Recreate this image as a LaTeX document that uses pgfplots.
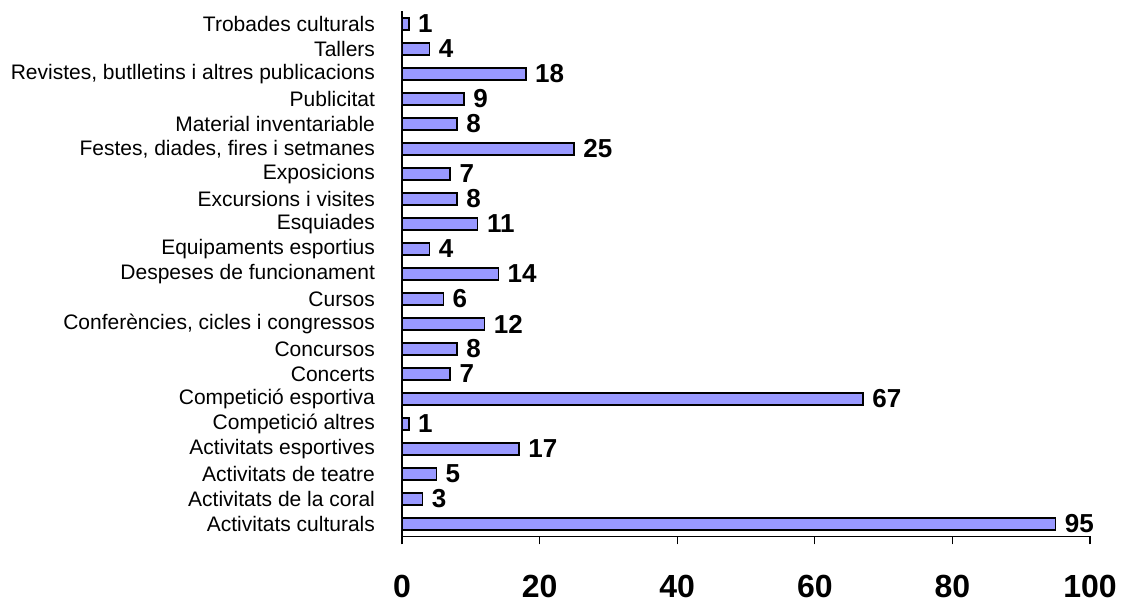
\documentclass[border=0pt]{standalone}
\usepackage{pgfplots}
\pgfplotsset{compat=1.18}
\usepackage{fontspec}
\setmainfont{Liberation Sans}
\definecolor{barblue}{RGB}{153,153,255}

\begin{document}
\begin{tikzpicture}
\useasboundingbox (-201pt,-33.25pt) rectangle (361pt,268.25pt);
\begin{axis}[
  at={(0,0)}, anchor=south west,
  scale only axis,
  width=344pt, height=262.5pt,
  xbar,
  bar width=6.2pt,
  xmin=0, xmax=100,
  ymin=-0.5, ymax=20.5,
  enlargelimits=false,
  axis x line=bottom, axis y line=left,
  axis line style={-, line width=0.6pt, black},
  xtick={0,20,...,100},
  tick align=outside,
  major tick length=4pt,
  minor tick length=3pt,
  tick style={line width=0.6pt, black},
  ytick={0,...,20},
  ytick style={draw=none},
  minor ytick={-0.5,0.5,...,20.5},
  yticklabels={
    {Activitats culturals},
    {Activitats de la coral},
    {Activitats de teatre},
    {Activitats esportives},
    {Competició altres},
    {Competició esportiva},
    {Concerts},
    {Concursos},
    {Conferències, cicles i congressos},
    {Cursos},
    {Despeses de funcionament},
    {Equipaments esportius},
    {Esquiades},
    {Excursions i visites},
    {Exposicions},
    {Festes, diades, fires i setmanes},
    {Material inventariable},
    {Publicitat},
    {Revistes, butlletins i altres publicacions},
    {Tallers},
    {Trobades culturals}
  },
  yticklabel style={font=\fontsize{10.5}{12}\selectfont, xshift=-6pt},
  xticklabel style={font=\fontsize{16}{19}\selectfont\bfseries, yshift=-12pt},
  /pgf/number format/assume math mode=true,
  nodes near coords,
  every node near coord/.append style={font=\fontsize{13}{15}\selectfont\bfseries,
    anchor=west, inner sep=1pt, xshift=3.3pt, black},
]
\addplot[fill=barblue, draw=black, line width=0.75pt] coordinates {
  (95,0) (3,1) (5,2) (17,3) (1,4) (67,5) (7,6) (8,7) (12,8) (6,9)
  (14,10) (4,11) (11,12) (8,13) (7,14) (25,15) (8,16) (9,17) (18,18)
  (4,19) (1,20)
};
\end{axis}
\end{tikzpicture}
\end{document}
